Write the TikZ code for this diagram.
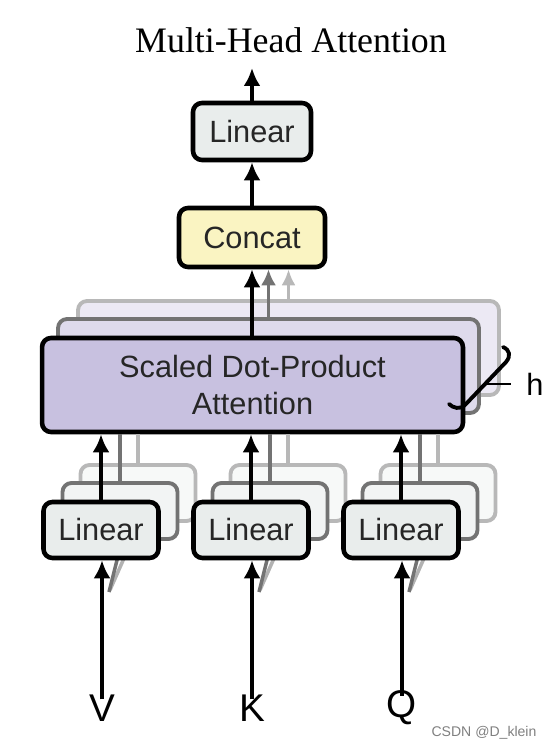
\documentclass[tikz,border=0pt]{standalone}
\usepackage{fontspec}
\setmainfont{Liberation Serif}
\setsansfont{Liberation Sans}
\usetikzlibrary{arrows.meta}
\definecolor{linfill}{HTML}{E9EDEC}
\definecolor{catfill}{HTML}{FAF4C2}
\definecolor{attfill}{HTML}{C8C1E0}
\begin{document}
\begin{tikzpicture}[x=0.02cm,y=-0.02cm]
\tikzstyle{every node}+=[inner sep=0pt]
\tikzstyle{blk}=[draw,line width=2.6pt,rounded corners=0.18cm,font=\sffamily\fontsize{17.5}{21}\selectfont,text=black!85]
\tikzstyle{lin}=[blk,fill=linfill,minimum width=2.3cm,minimum height=1.12cm]
\tikzstyle{att}=[blk,fill=attfill,minimum width=8.42cm,minimum height=1.88cm,align=center]
\tikzstyle{back2}=[draw=black!55,fill=white,line width=2.2pt]
\tikzstyle{back3}=[draw=black!28,fill=white,line width=2.2pt]
\tikzstyle{arr}=[line width=2.6pt,-{Latex[length=0.36cm,width=0.34cm]}]
\tikzstyle{ghost2}=[line width=2.2pt,black!55]
\tikzstyle{ghost3}=[line width=2.2pt,black!28]
\tikzstyle{inlab}=[font=\sffamily\fontsize{22}{26}\selectfont]
\useasboundingbox (0,0) rectangle (545,749);

\node (title) at (291,40) {\fontsize{20.4}{24}\selectfont Multi-Head Attention};
\coordinate (out) at (252,68);
\node[lin,minimum width=2.36cm,minimum height=1.14cm] (toplin) at (252,131.5) {Linear};
\node[blk,fill=catfill,minimum width=2.92cm,minimum height=1.18cm] (concat) at (252,237.5) {Concat};
\draw[arr] (toplin.north) -- (out);
\draw[arr] (concat.north) -- (toplin.south);

\node[att,back3,fill=attfill!35] (att3) at (288.5,348) {};
\draw[ghost3,-{Latex[length=0.32cm,width=0.28cm]}] (att3.north) -- (att3.north |- concat.south);
\node[att,back2,fill=attfill!60] (att2) at (268.5,366) {};
\draw[ghost2,-{Latex[length=0.32cm,width=0.3cm]}] (att2.north) -- (att2.north |- concat.south);
\node[att] (att) at (252.5,385) {Scaled Dot-Product\\Attention};
\draw[arr] (att.north -| toplin.north) -- (toplin.north |- concat.south);

\foreach \x/\n/\t in {101/v/V,251/k/K,401/q/Q}{
  \node[lin,back3,fill=linfill!35] (lin3\n) at (\x+37,493) {};
  \draw[ghost3] (lin3\n.north) -- (lin3\n.north |- att.south);
  \node[lin,back2,fill=linfill!60] (lin2\n) at (\x+19,511) {};
  \draw[ghost2] (lin2\n.north) -- (lin2\n.north |- att.south);
  \draw[black!30,line width=2pt] (\x+24,556) -- ++(-15,34);
  \draw[black!55,line width=2pt] (\x+17,556) -- ++(-9,36);
  \node[lin] (lin\n) at (\x,530) {Linear};
  \draw[arr] (lin\n.north) -- (lin\n.north |- att.south);
  \node[inlab] (in\n) at (\x+1,708) {\t};
  \draw[arr] ([yshift=-0.1cm]in\n.north) -- (in\n.north |- lin\n.south);
}

\coordinate (hmid) at (486,384);
\draw[line width=2.2pt,line cap=round] (503,347) .. controls (510,350) and (511,356) .. (506,362) -- (465,405) .. controls (460,410) and (453,408) .. (449,404);
\node[inlab,font=\sffamily\fontsize{17.5}{21}\selectfont] (hlab) at (535,384) {h};
\draw[line width=1.6pt] (hmid) -- ([xshift=-0.3cm]hlab.west);
\node[font=\sffamily\fontsize{8}{10}\selectfont,text=black!50] (mark) at (484,733) {CSDN @D\_klein};
\end{tikzpicture}
\end{document}
